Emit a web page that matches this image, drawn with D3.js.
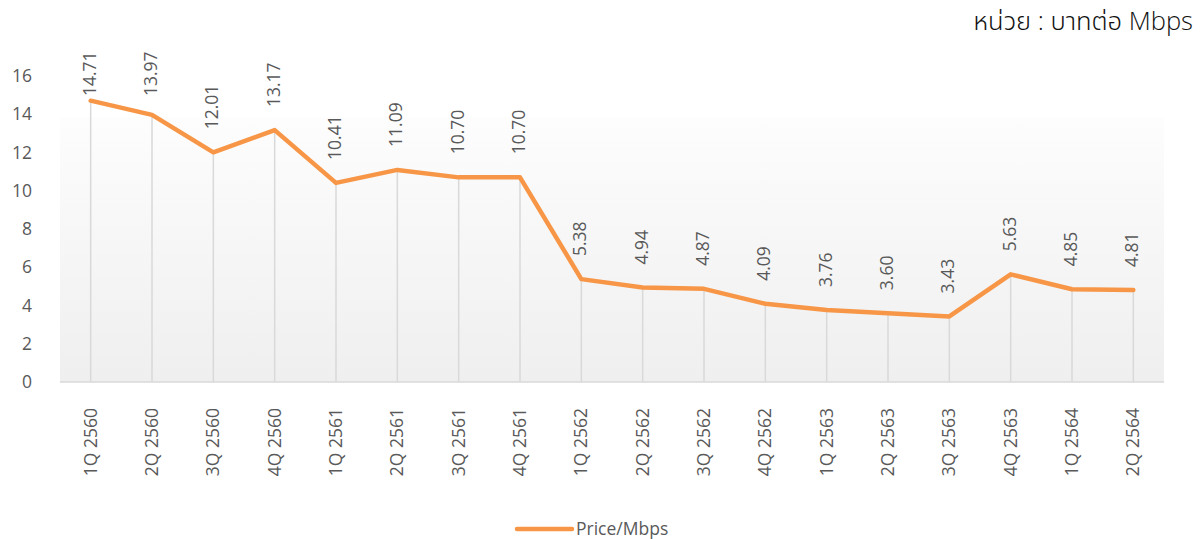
<!DOCTYPE html>
<html>
<head>
<meta charset="utf-8">
<script src="https://cdn.jsdelivr.net/npm/d3@7"></script>
<style>
  body { margin: 0; background: #fff; }
  svg text { font-family: "Open Sans", "Noto Sans", "Noto Sans Thai", sans-serif; }
</style>
</head>
<body>
<div id="chart"></div>
<script>
// quarters (Thai Buddhist year)
const quarters = ["1Q 2560", "2Q 2560", "3Q 2560", "4Q 2560", "1Q 2561", "2Q 2561", "3Q 2561", "4Q 2561",
  "1Q 2562", "2Q 2562", "3Q 2562", "4Q 2562", "1Q 2563", "2Q 2563", "3Q 2563", "4Q 2563", "1Q 2564", "2Q 2564"];
const pricePerMbps = [14.71, 13.97, 12.01, 13.17, 10.41, 11.09, 10.70, 10.70,
  5.38, 4.94, 4.87, 4.09, 3.76, 3.60, 3.43, 5.63, 4.85, 4.81];
const yTicks = [0, 2, 4, 6, 8, 10, 12, 14, 16];
const seriesName = "Price/Mbps";
const unitLabel = "หน่วย : บาทต่อ Mbps";

const width = 1204, height = 539;
const margin = {left: 60, right: 40, top: 76, bottom: 157};
const orange = "#f79646", grey = "#595959";
const fs = "17.5px";

const svg = d3.select("#chart").append("svg")
  .attr("width", width)
  .attr("height", height);

const x = d3.scaleBand()
  .domain(quarters)
  .range([margin.left, width - margin.right]);

const y = d3.scaleLinear()
  .domain([0, 16])
  .range([height - margin.bottom, margin.top]);

// plot area background, white fading to light grey
let grad = svg.append("defs").append("linearGradient")
  .attr("id", "bg").attr("x1", 0).attr("y1", 0).attr("x2", 0).attr("y2", 1);
grad.append("stop").attr("offset", "0%").attr("stop-color", "#fdfdfd");
grad.append("stop").attr("offset", "100%").attr("stop-color", "#efefef");

svg.append("rect")
  .attr("x", margin.left)
  .attr("y", 117)
  .attr("width", width - margin.right - margin.left)
  .attr("height", y(0) - 117)
  .attr("fill", "url(#bg)");

// y axis labels only
svg.append("g")
  .attr("transform", `translate(${margin.left - 28},0)`)
  .call(d3.axisLeft(y).tickValues(yTicks).tickSize(0).tickPadding(0))
  .call(g => g.select(".domain").remove())
  .selectAll("text")
  .attr("fill", grey)
  .style("font-size", fs);

// baseline
svg.append("line")
  .attr("x1", margin.left).attr("x2", width - margin.right)
  .attr("y1", y(0)).attr("y2", y(0))
  .attr("stroke", "#d9d9d9").attr("stroke-width", 1.5);

// x axis labels, rotated
svg.append("g")
  .attr("transform", `translate(0,${y(0)})`)
  .call(d3.axisBottom(x).tickSize(0).tickPadding(0))
  .call(g => g.select(".domain").remove())
  .selectAll("text")
  .attr("fill", grey)
  .style("font-size", fs)
  .attr("text-anchor", "end")
  .attr("dy", "0.35em")
  .attr("transform", "translate(0,26) rotate(-90)");

const cx = d => x(d) + x.bandwidth() / 2;
const data = quarters.map((q, i) => ({q: q, v: pricePerMbps[i]}));

// drop lines
svg.append("g")
  .selectAll("line")
  .data(data)
  .join("line")
  .attr("x1", d => cx(d.q)).attr("x2", d => cx(d.q))
  .attr("y1", d => y(d.v)).attr("y2", y(0))
  .attr("stroke", "#d9d9d9")
  .attr("stroke-width", 1.5);

const line = d3.line()
  .x(d => cx(d.q))
  .y(d => y(d.v));

svg.append("path")
  .datum(data)
  .attr("d", line)
  .attr("fill", "none")
  .attr("stroke", orange)
  .attr("stroke-width", 4.5)
  .attr("stroke-linejoin", "round")
  .attr("stroke-linecap", "round");

// data labels, rotated, clamped so they don't pass the top
svg.append("g")
  .selectAll("text")
  .data(data)
  .join("text")
  .attr("transform", d => {
    let yy = Math.max(y(d.v) - 23, 96);
    return `translate(${cx(d.q) - 1},${yy}) rotate(-90)`;
  })
  .attr("dy", "0.35em")
  .attr("fill", grey)
  .style("font-size", fs)
  .text(d => d.v.toFixed(2));

// legend
let legend = svg.append("g").attr("transform", "translate(517,529)");
legend.append("line")
  .attr("x1", 0).attr("x2", 55)
  .attr("stroke", orange).attr("stroke-width", 4.5)
  .attr("stroke-linecap", "round");
legend.append("text")
  .attr("x", 59).attr("dy", "0.35em")
  .attr("fill", grey)
  .style("font-size", fs)
  .text(seriesName);

// unit label top right
svg.append("text")
  .attr("x", 1193).attr("y", 30)
  .attr("text-anchor", "end")
  .attr("fill", "#111")
  .style("font-size", "25.5px")
  .style("font-weight", 300)
  .text(unitLabel);
</script>
</body>
</html>
